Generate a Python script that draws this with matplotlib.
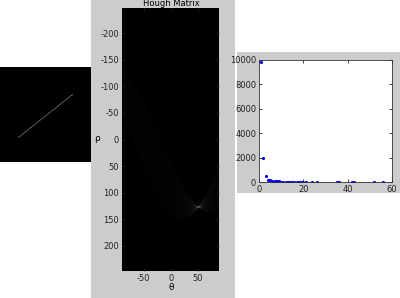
import numpy as np
import matplotlib
matplotlib.use('Agg')
import matplotlib.pyplot as plt
from matplotlib.patches import Rectangle

plt.rcParams['axes.unicode_minus'] = False

# line segment in the 175x175 binary image (col, row)
img_size = 175
line_start = (141, 50)
line_end = (42, 129)

# hough parameters
theta_deg = np.arange(-90, 90)
rho_max = 247

# peak histogram (right panel)
peak_x = [1, 2, 3, 4, 5, 6, 7, 8, 9, 10, 11, 12, 13, 14, 15, 16, 17, 18, 19, 20, 21,
          24, 26, 35, 36, 42, 43, 52, 56]
peak_y = [9850, 2000, 480, 180, 130, 90, 70, 55, 45, 40, 35, 30, 28, 25, 22, 20, 20, 18,
          15, 15, 12, 10, 10, 8, 8, 6, 6, 5, 5]

# build the binary image
bw = np.zeros((img_size, img_size))
n = max(abs(line_end[0]-line_start[0]), abs(line_end[1]-line_start[1])) + 1
cols = np.round(np.linspace(line_start[0], line_end[0], n)).astype(int)
rows = np.round(np.linspace(line_start[1], line_end[1], n)).astype(int)
bw[rows, cols] = 1

# hough accumulator
t = np.deg2rad(theta_deg)
H = np.zeros((2*rho_max+1, len(theta_deg)))
for x, y in zip(cols, rows):
    r = np.round(x*np.cos(t) + y*np.sin(t)).astype(int) + rho_max
    H[r, np.arange(len(theta_deg))] += 1

W, Hh = 400, 298
fig = plt.figure(figsize=(4, 2.98), dpi=100)
fig.patch.set_facecolor('white')
gray = '#cccccc'

def box(x0, y0, x1, y1):
    # pixel box (top-left origin) -> figure fraction rect
    return [x0/W, 1-y1/Hh, (x1-x0)/W, (y1-y0)/Hh]

# gray panels
fig.patches.append(Rectangle((91/W, 0), 144/W, 1, transform=fig.transFigure,
                             facecolor=gray, edgecolor='none', zorder=-5))
fig.patches.append(Rectangle((237/W, 1-193/Hh), 163/W, 141/Hh, transform=fig.transFigure,
                             facecolor=gray, edgecolor='none', zorder=-5))

# left: binary image
ax0 = fig.add_axes(box(0, 67, 91, 162))
ax0.imshow(bw, cmap='gray', aspect='auto', interpolation='antialiased',
           extent=[-0.5, img_size-0.5, img_size-0.5, -0.5], vmax=1.2)
ax0.set_xlim(8, img_size-0.5)
ax0.axis('off')

# middle: hough matrix
ax1 = fig.add_axes(box(122, 8, 219, 271))
ax1.imshow(H, cmap='gray', aspect='auto', interpolation='antialiased',
           extent=[theta_deg[0]-0.5, theta_deg[-1]+0.5, rho_max+0.5, -rho_max-0.5])
ax1.set_xticks([-50, 0, 50])
ax1.set_yticks([-200, -150, -100, -50, 0, 50, 100, 150, 200])
ax1.tick_params(direction='in', length=2, width=0.6, labelsize=6, colors='#222222',
                top=True, right=True, pad=2)
for s in ax1.spines.values():
    s.set_visible(False)
fig.text(171/W, 1-288/Hh, 'θ', fontsize=6.5, ha='center', va='center')
fig.text(97/W, 1-139/Hh, 'ρ', fontsize=6.5, ha='center', va='center')
fig.text(171/W, 1-4/Hh, 'Hough Matrix', fontsize=6, ha='center', va='center')

# right: peak plot
ax2 = fig.add_axes(box(259, 60, 392, 182))
ax2.plot(peak_x, peak_y, '.', color='#0000ee', markersize=2.5)
ax2.set_xlim(0, 60)
ax2.set_ylim(0, 10000)
ax2.set_xticks([0, 20, 40, 60])
ax2.set_yticks([0, 2000, 4000, 6000, 8000, 10000])
ax2.tick_params(direction='in', length=2, width=0.6, labelsize=6, colors='#222222',
                top=True, right=True, pad=2)
for s in ax2.spines.values():
    s.set_linewidth(0.6)
    s.set_color('#333333')

fig.savefig('out.png', dpi=100)
